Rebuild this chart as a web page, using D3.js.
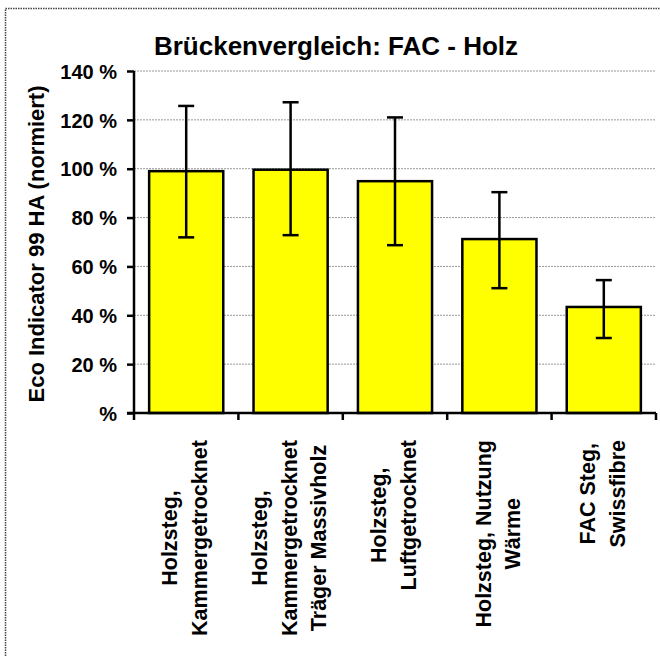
<!DOCTYPE html>
<html lang="de">
<head>
<meta charset="utf-8">
<title>Brückenvergleich: FAC - Holz</title>
<script src="https://d3js.org/d3.v7.min.js"></script>
<style>
  body { margin: 0; background: #fff; }
  svg text { font-family: "Liberation Sans", Arial, sans-serif; font-weight: bold; fill: #000; }
</style>
</head>
<body>
<div id="chart"></div>
<script>
// chart data
const categories = [
  ["Holzsteg,", "Kammergetrocknet"],
  ["Holzsteg,", "Kammergetrocknet", "Träger Massivholz"],
  ["Holzsteg,", "Luftgetrocknet"],
  ["Holzsteg, Nutzung", "Wärme"],
  ["FAC Steg,", "Swissfibre"]
];
const values  = [99.0, 99.6, 94.9, 71.2, 43.4];
const errHigh = [125.7, 127.2, 121.0, 90.4, 54.4];
const errLow  = [71.9, 72.8, 68.7, 51.1, 30.7];
const yTicks  = [0, 20, 40, 60, 80, 100, 120, 140];

const W = 660, H = 656;
const plotLeft = 134, plotRight = 656, plotTop = 71, plotBottom = 413;

const svg = d3.select("#chart").append("svg")
    .attr("width", W).attr("height", H);

// dotted frame (only top and left visible in the picture)
svg.append("path")
    .attr("d", `M5.5,${H} V8.5 H${W}`)
    .attr("fill", "none")
    .attr("stroke", "#444")
    .attr("stroke-width", 1.5)
    .attr("stroke-dasharray", "1.5,1");

const x = d3.scaleBand()
    .domain(d3.range(categories.length))
    .range([plotLeft, plotRight])
    .paddingInner(0.29)
    .paddingOuter(0.145);

const y = d3.scaleLinear().domain([0, 140]).range([plotBottom, plotTop]);

// gridlines
svg.append("g").selectAll("line")
  .data(yTicks.filter(d => d > 0))
  .enter().append("line")
    .attr("x1", plotLeft).attr("x2", plotRight)
    .attr("y1", d => y(d)).attr("y2", d => y(d))
    .attr("stroke", "#999")
    .attr("stroke-width", 1)
    .attr("stroke-dasharray", "2,1");

// bars
svg.append("g").selectAll("rect")
  .data(values)
  .enter().append("rect")
    .attr("x", (d, i) => x(i))
    .attr("y", d => y(d))
    .attr("width", x.bandwidth())
    .attr("height", d => y(0) - y(d))
    .attr("fill", "#ffff00")
    .attr("stroke", "#000")
    .attr("stroke-width", 2.5);

// error bars
const err = svg.append("g").attr("stroke", "#000").attr("stroke-width", 2.5);
values.forEach(function (v, i) {
  const cx = x(i) + x.bandwidth() / 2;
  err.append("line").attr("x1", cx).attr("x2", cx)
      .attr("y1", y(errHigh[i])).attr("y2", y(errLow[i]));
  [errHigh[i], errLow[i]].forEach(function (e) {
    err.append("line").attr("x1", cx - 8).attr("x2", cx + 8)
        .attr("y1", y(e)).attr("y2", y(e));
  });
});

// y axis
const yAxis = svg.append("g")
    .attr("transform", `translate(${plotLeft},0)`)
    .call(d3.axisLeft(y).tickValues(yTicks).tickSize(7).tickPadding(10)
      .tickFormat(d => d === 0 ? "%" : d + " %"));
yAxis.select(".domain").attr("stroke-width", 2.5).attr("d", `M0,${plotTop}V${plotBottom}`);
yAxis.selectAll(".tick line").attr("stroke-width", 2.5);
yAxis.selectAll("text").style("font-size", "20px").attr("dy", "0.36em");

// x axis
const xTickPos = d3.range(categories.length + 1)
    .map(i => plotLeft + i * (plotRight - plotLeft) / categories.length);
svg.append("line")
    .attr("x1", plotLeft - 7).attr("x2", plotRight)
    .attr("y1", plotBottom).attr("y2", plotBottom)
    .attr("stroke", "#000").attr("stroke-width", 2.5);
svg.append("g").selectAll("line")
  .data(xTickPos)
  .enter().append("line")
    .attr("x1", d => d).attr("x2", d => d)
    .attr("y1", plotBottom).attr("y2", plotBottom + 7)
    .attr("stroke", "#000").attr("stroke-width", 2.5);

// category labels, rotated, lines centred on the longest one
const lineH = 29.5;
categories.forEach(function (lines, i) {
  const cx = x(i) + x.bandwidth() / 2;
  const g = svg.append("g")
      .attr("transform", `translate(${cx},440) rotate(-90)`);
  const texts = g.selectAll("text").data(lines).enter().append("text")
      .style("font-size", "21.5px")
      .attr("text-anchor", "middle")
      .attr("y", (d, j) => (j - (lines.length - 1) / 2) * lineH + 6)
      .text(d => d);
  let maxW = 0;
  texts.each(function () { maxW = Math.max(maxW, this.getComputedTextLength()); });
  texts.attr("x", -maxW / 2);
});

// y axis title
svg.append("text")
    .attr("transform", "translate(44,244) rotate(-90)")
    .attr("text-anchor", "middle")
    .style("font-size", "22px")
    .text("Eco Indicator 99 HA (normiert)");

// chart title
svg.append("text")
    .attr("x", 336).attr("y", 55)
    .attr("text-anchor", "middle")
    .style("font-size", "26px")
    .text("Brückenvergleich: FAC - Holz");
</script>
</body>
</html>
